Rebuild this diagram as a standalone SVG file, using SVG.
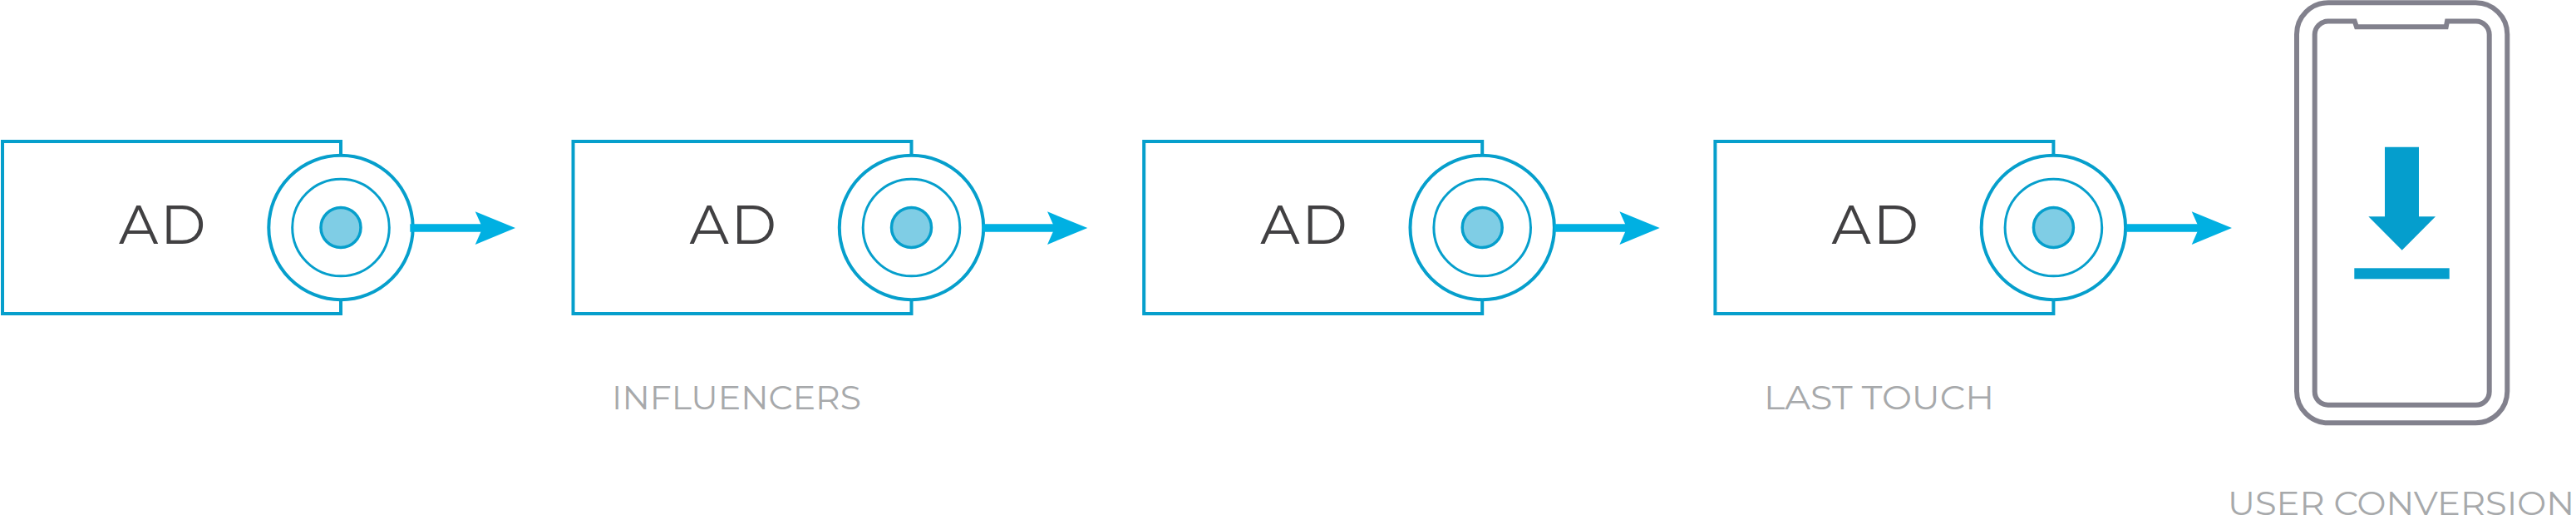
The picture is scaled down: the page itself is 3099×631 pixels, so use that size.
<svg xmlns="http://www.w3.org/2000/svg" width="3099" height="631" viewBox="0 0 3099 631">
<style>
.box{fill:#fff;stroke:#069fcc;stroke-width:4}
.c1{fill:#fff;stroke:#069fcc;stroke-width:4}
.c2{fill:#fff;stroke:#069fcc;stroke-width:3}
.c3{fill:#7fcde5;stroke:#069fcc;stroke-width:3.500}
.ad{font-family:"Montserrat","Inter","Lato",sans-serif;font-size:66px;font-weight:400;fill:#414042}
.lab{font-family:"Montserrat","Inter","Lato",sans-serif;font-size:40px;font-weight:400;fill:#a7a9ab}
.ph{fill:none;stroke:#82818d;stroke-width:6}
.dl{fill:#059ecd}
.conn{stroke:#00b0e2;stroke-width:9.300;fill:none}
.head{fill:#00b0e2}
</style>
<defs>
<g id="ad-node">
<rect class="box" x="3" y="170" width="407" height="207"/>
<circle class="c1" cx="410" cy="273.500" r="86.700"/>
<circle class="c2" cx="410" cy="273.500" r="58.300"/>
<circle class="c3" cx="410" cy="273.500" r="24"/>
<text class="ad" x="143 193" y="292.700">AD</text>
</g>
<g id="arrow">
<path class="conn" d="M493.300 274H583"/>
<path class="head" d="M571.700 254.300L620 274L571.700 294L580.500 274Z"/>
</g>
</defs>
<g id="node-ad-1"><use href="#ad-node"/></g>
<g id="node-ad-2"><use href="#ad-node" x="686.500"/></g>
<g id="node-ad-3"><use href="#ad-node" x="1373.200"/></g>
<g id="node-ad-4"><use href="#ad-node" x="2060.400"/></g>
<g id="connectors">
<use href="#arrow"/>
<use href="#arrow" x="688.300"/>
<use href="#arrow" x="1376.700"/>
<use href="#arrow" x="2065"/>
</g>
<g id="node-phone">
<rect class="ph" x="2763" y="3.300" width="253.300" height="505" rx="38"/>
<path class="ph" d="M2832.700 25.600H2800.700A16 16 0 0 0 2784.700 41.600V470.700A16 16 0 0 0 2800.700 486.700H2978.700A16 16 0 0 0 2994.700 470.700V41.600A16 16 0 0 0 2978.700 25.600H2944L2942.700 32.300H2835Z"/>
<path class="dl" d="M2869 176.700H2910V260.300H2930L2889.700 300.700L2849.300 260.300H2869Z"/>
<rect class="dl" x="2832.300" y="322.300" width="114.400" height="13"/>
</g>
<g id="labels">
<text class="lab" x="736" y="491.700" textLength="300" lengthAdjust="spacingAndGlyphs">INFLUENCERS</text>
<text class="lab" x="2122" y="491.700" textLength="277" lengthAdjust="spacingAndGlyphs">LAST TOUCH</text>
<text class="lab" x="2680" y="619" textLength="417" lengthAdjust="spacingAndGlyphs">USER CONVERSION</text>
</g>
</svg>
